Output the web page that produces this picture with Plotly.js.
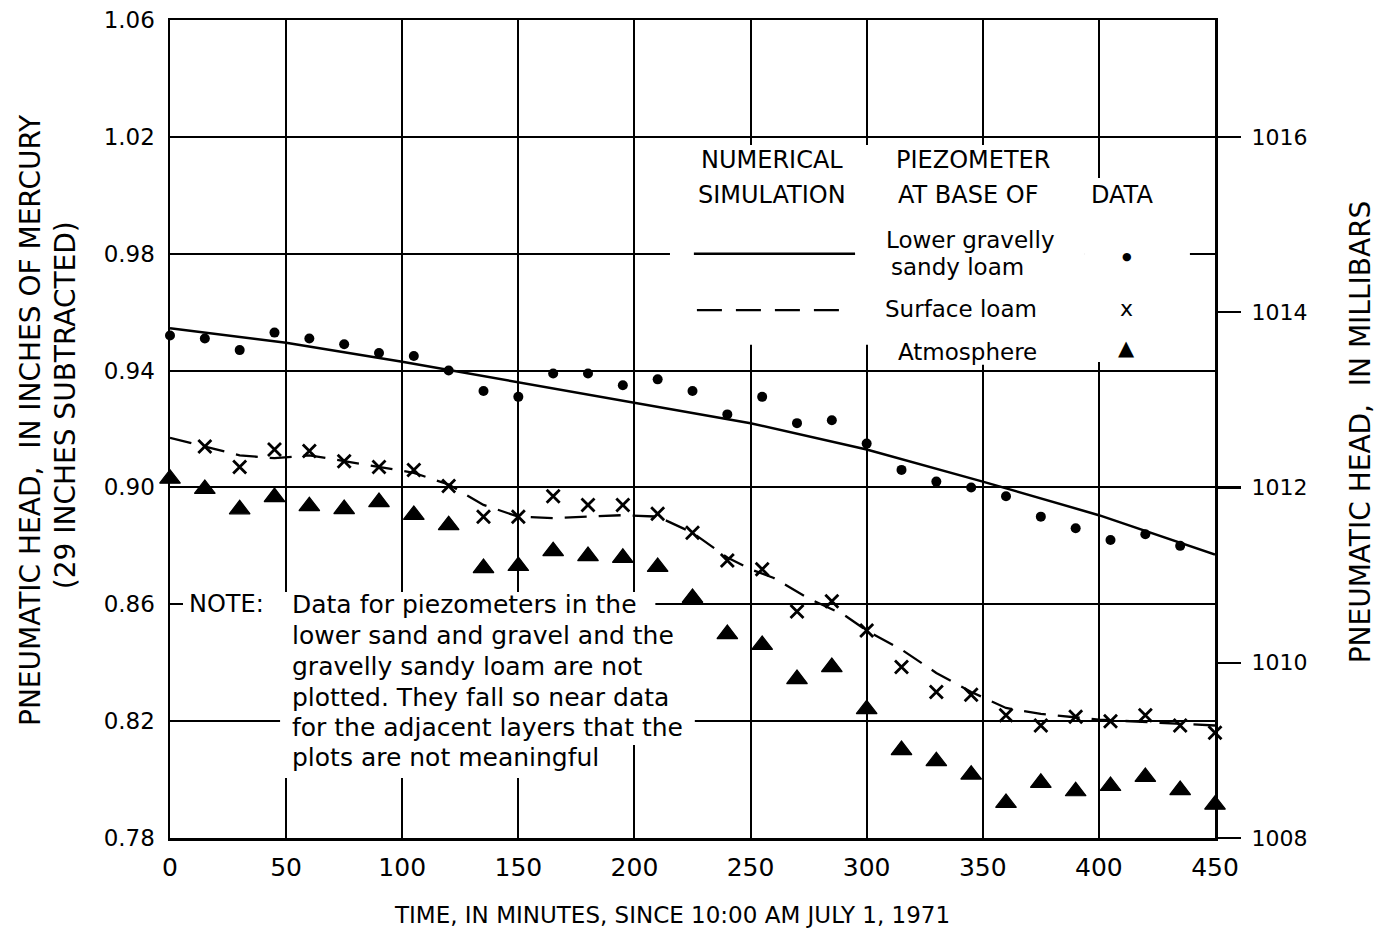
<!DOCTYPE html>
<html>
<head>
<meta charset="utf-8">
<script src="https://cdn.plot.ly/plotly-3.0.1.min.js"></script>
<style>html,body{margin:0;padding:0;background:#fff;}#chart{width:1381px;height:937px;}</style>
</head>
<body>
<div id="chart"></div>
<script>
// ---- data (inches of mercury, 29 inches subtracted) ----
const lowerDataTime = [0,15,30,45,60,75,90,105,120,135,150,165,180,195,210,225,240,255,270,285,300,315,330,345,360,375,390,405,420,435];
const lowerData = [0.952,0.951,0.947,0.953,0.951,0.949,0.946,0.945,0.940,0.933,0.931,0.939,0.939,0.935,0.937,0.933,0.925,0.931,0.922,0.923,0.915,0.906,0.902,0.900,0.897,0.890,0.886,0.882,0.884,0.880];

const surfaceDataTime = [15,30,45,60,75,90,105,120,135,150,165,180,195,210,225,240,255,270,285,300,315,330,345,360,375,390,405,420,435,450];
const surfaceData = [0.914,0.907,0.913,0.9125,0.909,0.907,0.906,0.9005,0.890,0.890,0.897,0.894,0.894,0.891,0.8845,0.875,0.872,0.8575,0.861,0.851,0.8385,0.830,0.829,0.822,0.8185,0.8215,0.820,0.822,0.8185,0.816];

const atmDataTime = [0,15,30,45,60,75,90,105,120,135,150,165,180,195,210,225,240,255,270,285,300,315,330,345,360,375,390,405,420,435,450];
const atmData = [0.903,0.8995,0.8925,0.8967,0.8936,0.8926,0.895,0.8906,0.8871,0.8724,0.8731,0.8782,0.8765,0.8759,0.8728,0.8622,0.8498,0.8461,0.8344,0.8385,0.8241,0.8101,0.8063,0.8017,0.792,0.7989,0.796,0.7978,0.8009,0.7964,0.7914];

// numerical simulation curves
const simLowerTime = [0,50,100,150,200,250,300,350,400,450];
const simLower = [0.9545,0.9495,0.943,0.936,0.929,0.922,0.913,0.902,0.8905,0.877];

const simSurfaceTime = [0,15,30,45,60,75,90,105,120,135,150,165,180,195,210,225,240,250,260,275,290,300,315,330,345,360,375,400,425,450];
const simSurface = [0.917,0.914,0.911,0.910,0.911,0.909,0.907,0.905,0.901,0.894,0.890,0.8895,0.890,0.8905,0.890,0.8845,0.876,0.872,0.869,0.862,0.8565,0.851,0.8445,0.8365,0.830,0.8245,0.8225,0.8205,0.8195,0.8185];

// ---- axes / ticks ----
const xTicks = [0,50,100,150,200,250,300,350,400,450];
const yTicks = [0.78,0.82,0.86,0.90,0.94,0.98,1.02,1.06];
const yTickText = ['0.78','0.82','0.86','0.90','0.94','0.98','1.02','1.06'];
const mbTicks = [1008,1010,1012,1014,1016];

const noteLines = ['Data for piezometers in the','lower sand and gravel and the','gravelly sandy loam are not',
                   'plotted. They fall so near data','for the adjacent layers that the','plots are not meaningful'];

const FONT = 'DejaVu Sans';

const traces = [
  {x: simLowerTime, y: simLower, mode:'lines', line:{color:'black', width:2.5}, hoverinfo:'skip'},
  {x: simSurfaceTime, y: simSurface, mode:'lines', line:{color:'black', width:2.3, dash:'22px,12px'}, hoverinfo:'skip'},
  {x: lowerDataTime, y: lowerData, mode:'markers', cliponaxis:false, marker:{symbol:'circle', size:10, color:'black'}},
  {x: surfaceDataTime, y: surfaceData, mode:'markers', cliponaxis:false, marker:{symbol:'x-thin-open', size:13, color:'black', line:{width:2.8, color:'black'}}},
  {x: atmDataTime, y: atmData, mode:'markers', cliponaxis:false, marker:{symbol:'triangle-up', size:18, color:'black', line:{width:1.2, color:'black'}}},
  // carrier for the millibar axis (no visible marks)
  {y: mbTicks, yaxis:'y2', mode:'none', hoverinfo:'skip', showlegend:false}
];

function maskRect(x0,x1,y0,y1){
  return {type:'rect', xref:'x', yref:'y', x0:x0, x1:x1, y0:y0, y1:y1, fillcolor:'white', line:{width:0}, layer:'between'};
}

const shapes = [
  // legend block masks
  maskRect(215.3, 394.0, 0.9488, 1.0172),
  maskRect(394.0, 439.2, 0.9429, 1.0059),
  maskRect(305.7, 394.0, 0.9420, 0.9505),
  // note block masks
  maskRect(5.6, 209, 0.8539, 0.8642),
  maskRect(47.4, 226, 0.8118, 0.8539),
  maskRect(47.4, 193.8, 0.8005, 0.8118),
  // legend sample lines
  {type:'line', xref:'x', yref:'y', x0:225.6, x1:295, y0:0.98, y1:0.98, line:{color:'black', width:2.5}, layer:'above'},
  {type:'line', xref:'x', yref:'y', x0:226.9, x1:288.5, y0:0.9607, y1:0.9607, line:{color:'black', width:2.3, dash:'25px,14px'}, layer:'above'}
];

function txt(text, x, y, size, xanchor, extra){
  return Object.assign({text:text, x:x, y:y, xref:'x', yref:'y', showarrow:false, xanchor:xanchor||'center', yanchor:'middle',
    font:{family:FONT, size:size, color:'black'}}, extra||{});
}

const annotations = [
  txt('NUMERICAL', 259.2, 1.0121, 24),
  txt('PIEZOMETER', 345.8, 1.0121, 24),
  txt('SIMULATION', 259.2, 1.0001, 24),
  txt('AT BASE OF', 343.6, 1.0001, 24),
  txt('DATA', 410, 1.0001, 24),
  txt('Lower gravelly', 344.5, 0.9847, 23),
  txt('sandy loam', 339.3, 0.9755, 23),
  txt('Surface loam', 340.6, 0.9611, 23),
  txt('Atmosphere', 343.6, 0.9464, 23),
  txt('\u25CF', 412.1, 0.9792, 11),
  txt('x', 412.1, 0.9611, 22),
  txt('\u25B2', 412.1, 0.9477, 21),
  // note
  txt('NOTE:', 7.2, 0.8600, 24, 'left'),
  // axis titles
  {text:'PNEUMATIC HEAD,\u00a0\u00a0IN INCHES OF MERCURY', xref:'paper', yref:'paper', x:-0.134, y:0.511, textangle:-90, showarrow:false,
   xanchor:'center', yanchor:'middle', font:{family:FONT, size:28, color:'black'}},
  {text:'(29 INCHES SUBTRACTED)', xref:'paper', yref:'paper', x:-0.1005, y:0.529, textangle:-90, showarrow:false,
   xanchor:'center', yanchor:'middle', font:{family:FONT, size:28, color:'black'}},
  {text:'PNEUMATIC HEAD,\u00a0\u00a0IN MILLIBARS', xref:'paper', yref:'paper', x:1.1388, y:0.496, textangle:-90, showarrow:false,
   xanchor:'center', yanchor:'middle', font:{family:FONT, size:28, color:'black'}},
  {text:'TIME, IN MINUTES, SINCE 10:00 AM JULY 1, 1971', xref:'paper', yref:'paper', x:0.480, y:-0.094, showarrow:false,
   xanchor:'center', yanchor:'middle', font:{family:FONT, size:23, color:'black'}}
];

// note body, one annotation per line (pixel rows 607..760 mapped to data units)
const noteY = [0.8600, 0.8494, 0.8388, 0.8282, 0.8179, 0.8076];
noteLines.forEach((s, i) => annotations.push(txt(s, 51.7, noteY[i], 25, 'left')));

const layout = {
  width:1381, height:937,
  margin:{l:170, r:166, t:20, b:99, pad:0},
  paper_bgcolor:'white', plot_bgcolor:'white',
  showlegend:false,
  font:{family:FONT, color:'black'},
  xaxis:{range:[0,450], tickvals:xTicks, showgrid:true, gridcolor:'black', gridwidth:2,
         showline:true, linecolor:'black', linewidth:2.5, mirror:true, ticks:'', zeroline:false,
         tickfont:{family:FONT, size:25, color:'black'}, ticklabelstandoff:5, fixedrange:true},
  yaxis:{range:[0.78,1.06], tickvals:yTicks, ticktext:yTickText, showgrid:true, gridcolor:'black', gridwidth:2,
         showline:true, linecolor:'black', linewidth:2.5, mirror:true, ticks:'', zeroline:false,
         tickfont:{family:FONT, size:23, color:'black'}, ticklabelstandoff:8, fixedrange:true},
  yaxis2:{overlaying:'y', side:'right', anchor:'x', range:[1008, 1008 + 0.28/0.03], tickvals:mbTicks,
          ticks:'outside', ticklen:25, tickwidth:2.2, tickcolor:'black', showgrid:false, zeroline:false, showline:false,
          tickfont:{family:FONT, size:22, color:'black'}, ticklabelstandoff:6, fixedrange:true},
  shapes:shapes,
  annotations:annotations
};

Plotly.newPlot('chart', traces, layout, {displayModeBar:false, staticPlot:true});
</script>
</body>
</html>
